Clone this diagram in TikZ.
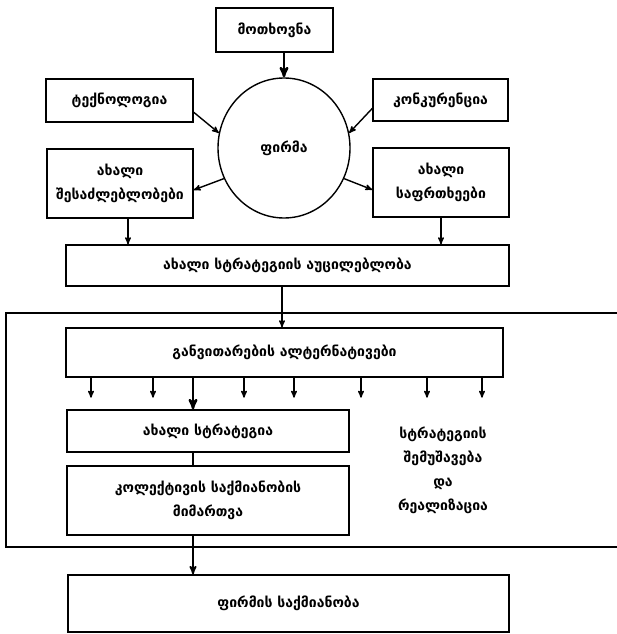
\documentclass[tikz,border=0pt]{standalone}
\usepackage{fontspec}
\newfontfamily\geo{DejaVu Sans}
\usetikzlibrary{arrows}
\usetikzlibrary{shapes}

\begin{document}
\begin{tikzpicture}[x=1pt,y=-1pt,>=stealth',
  every node/.style={font=\geo\bfseries\fontsize{14}{24}\selectfont,align=center,inner sep=0pt},
  box/.style 2 args={draw,line width=1.4pt,minimum width=#1,minimum height=#2},
  link/.style={->,line width=1.4pt},
  heavy/.style={->,line width=2.4pt}]
  \useasboundingbox (0,0) rectangle (617,634);

  \node[box={117pt}{44pt}] (motx) at (274.5,30) {მოთხოვნა};
  \node[box={147pt}{43pt}] (tech) at (119.5,100.5) {ტექნოლოგია};
  \node[box={135pt}{42pt}] (konk) at (440.5,100) {კონკურენცია};
  \node[draw,ellipse,line width=1.4pt,minimum width=132pt,minimum height=140pt] (firm) at (284,148) {ფირმა};
  \node[box={146pt}{69pt}] (shes) at (120,183.5) {ახალი\\შესაძლებლობები};
  \node[box={136pt}{69pt}] (safr) at (441,182.5) {ახალი\\საფრთხეები};
  \node[box={443pt}{41pt}] (auc) at (287.5,265.5) {ახალი სტრატეგიის აუცილებლობა};
  \node[box={437pt}{49pt}] (ganv) at (284.5,352.5) {განვითარების ალტერნატივები};
  \node[box={282pt}{42pt}] (strat) at (208,431) {ახალი სტრატეგია};
  \node[box={282pt}{69pt}] (kol) at (208,500.5) {კოლექტივის საქმიანობის\\მიმართვა};
  \node (shem) at (443,470) {სტრატეგიის\\შემუშავება\\და\\რეალიზაცია};
  \node[box={441pt}{57pt}] (saqm) at (288.5,603.5) {ფირმის საქმიანობა};

  % frame round the planning part
  \draw[line width=1.4pt] (617,313) -- (6,313) -- (6,547) -- (617,547);

  \draw[heavy] (motx.south -| firm.north) -- (firm.north);
  \draw[link] (tech.-9) -- (firm.167);
  \draw[link] (konk.187) -- (firm.13);
  \draw[link] (firm.207) -- (shes.-5);
  \draw[link] (firm.-27) -- (safr.186);
  \draw[link] ([xshift=8pt]shes.south) -- ([xshift=8pt]shes.south |- auc.north);
  \draw[link] (safr.south) -- (safr.south |- auc.north);
  \draw[link] (auc.south -| 282,0) -- (ganv.north -| 282,0);

  \foreach \x in {91,153,244,294,361,427,482}
    \draw[link] (ganv.south -| \x,0) -- ++(0,20);
  \draw[heavy] (ganv.south -| 193,0) -- (strat.north -| 193,0);
  \draw[line width=1.4pt] (strat.south -| 193,0) -- (kol.north -| 193,0);
  \draw[link,line width=1.8pt] (kol.south -| 193,0) -- (saqm.north -| 193,0);
\end{tikzpicture}
\end{document}
